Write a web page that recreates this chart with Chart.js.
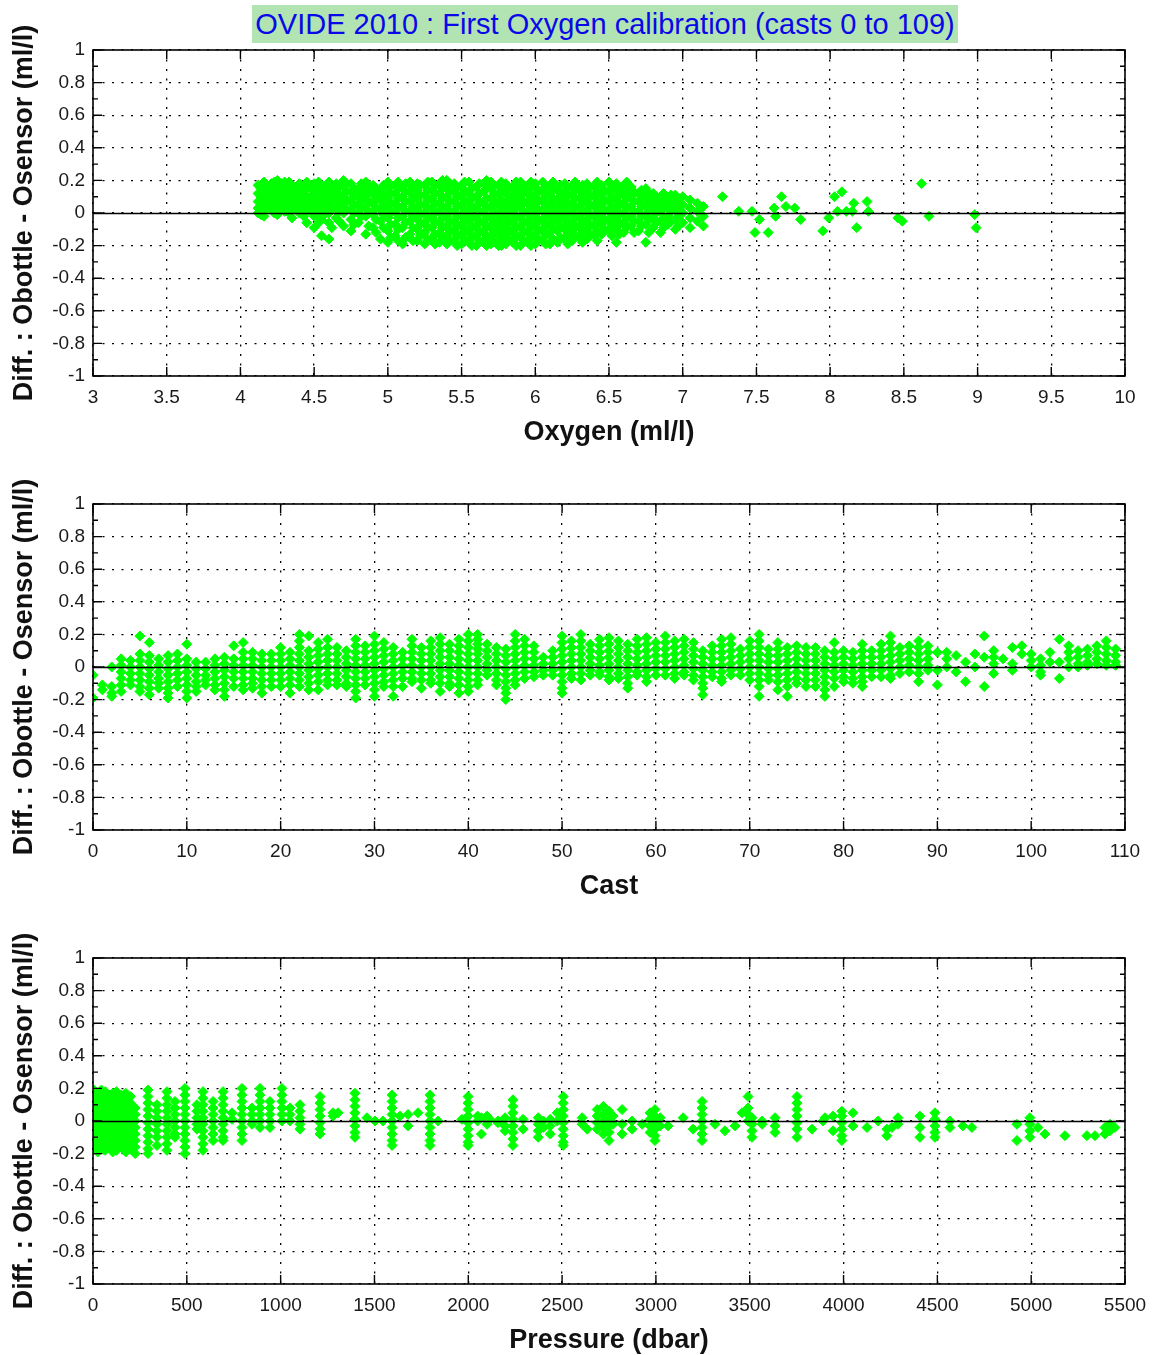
<!DOCTYPE html>
<html lang="en">
<head>
<meta charset="UTF-8">
<title>OVIDE 2010 : First Oxygen calibration</title>
<script src="https://cdn.jsdelivr.net/npm/chart.js"></script>
<style>
  body { margin: 0; background: #fff; width: 1160px; height: 1355px; position: relative; overflow: hidden; font-family: 'Liberation Sans', Arial, sans-serif; }
  #title { position: absolute; left: 252px; top: 5px; width: 706px; height: 38px; background: #b2e3b2; color: #0808e8; font-size: 29px; line-height: 39px; text-align: center; white-space: nowrap; }
  .panel { position: absolute; left: 0; width: 1160px; height: 454px; }
</style>
</head>
<body>
<div id="title">OVIDE 2010 : First Oxygen calibration (casts 0 to 109)</div>
<div class="panel" style="top:0"><canvas id="oxyChart" width="1160" height="454"></canvas></div>
<div class="panel" style="top:454px"><canvas id="castChart" width="1160" height="454"></canvas></div>
<div class="panel" style="top:908px"><canvas id="presChart" width="1160" height="454"></canvas></div>

<script>
// --- panel 1 : difference vs oxygen, read column by column
const oxygenLevels = [4.12,4.16,4.21,4.25,4.30,4.35,4.40,4.45,4.50,4.55,4.60,4.65,4.70,4.75,4.80,4.85,4.90,4.95,
  5.00,5.05,5.10,5.15,5.20,5.25,5.30,5.35,5.40,5.45,5.50,5.55,5.60,5.65,5.70,5.75,5.80,5.85,5.90,5.95,
  6.00,6.05,6.10,6.15,6.20,6.25,6.30,6.35,6.40,6.45,6.50,6.55,6.60,6.65,6.70,6.75,6.80,6.85,6.90,6.95,
  7.00,7.05,7.10,7.14,
  // in-between columns of the dense cloud
  4.14,4.18,4.23,4.28,4.33,4.38,4.43,4.48,4.53,4.58,
  4.62,4.67,4.72,4.77,4.82,4.87,4.92,4.97,5.02,5.07,5.12,5.17,5.22,5.27,5.32,5.37,5.42,5.47,5.52,5.57,
  5.62,5.67,5.72,5.77,5.82,5.87,5.92,5.97,6.02,6.07,6.12,6.17,6.22,6.27,6.32,6.37,6.42,6.47,6.52,6.57,
  6.62,6.67,6.72,6.77,6.82,6.87,6.92,6.97];
const oxygenDiffs = [
  [0.03,0.07,0.12,0.17,0.00],
  [0.01,0.05,0.10,0.14,0.19,-0.02],
  [0.02,0.06,0.09,0.13,0.18],
  [-0.01,0.04,0.08,0.12,0.16,0.20],
  [0.01,0.05,0.11,0.15,0.19],
  [-0.03,0.02,0.07,0.12,0.17],
  [0.00,0.04,0.09,0.14,0.18],
  [-0.06,0.01,0.06,0.10,0.15,0.19],
  [-0.09,-0.02,0.03,0.08,0.13,0.18],
  [-0.14,-0.04,0.02,0.06,0.11,0.16],
  [-0.16,-0.06,0.00,0.05,0.10,0.15,0.19],
  [-0.03,0.03,0.08,0.13,0.18],
  [-0.08,0.00,0.05,0.10,0.16,0.20],
  [-0.11,-0.04,0.02,0.07,0.13,0.18],
  [-0.06,0.00,0.05,0.11,0.15],
  [-0.13,-0.02,0.04,0.09,0.14,0.19],
  [-0.09,-0.01,0.06,0.12,0.17],
  [-0.16,-0.05,0.02,0.08,0.13],
  [-0.18,-0.11,-0.03,0.03,0.09,0.15,0.19],
  [-0.14,-0.07,0.01,0.06,0.12,0.17],
  [-0.19,-0.09,-0.02,0.04,0.10,0.16],
  [-0.13,-0.05,0.01,0.07,0.13,0.19],
  [-0.17,-0.10,-0.04,0.02,0.08,0.14,0.18],
  [-0.19,-0.12,-0.06,0.00,0.05,0.11,0.17],
  [-0.16,-0.09,-0.03,0.03,0.09,0.14,0.19],
  [-0.18,-0.12,-0.06,0.01,0.06,0.12,0.18],
  [-0.19,-0.14,-0.08,-0.02,0.04,0.10,0.16,0.20],
  [-0.17,-0.11,-0.05,0.01,0.07,0.13,0.18],
  [-0.19,-0.13,-0.07,-0.01,0.05,0.11,0.17],
  [-0.18,-0.12,-0.06,0.00,0.06,0.12,0.19],
  [-0.20,-0.14,-0.08,-0.02,0.04,0.10,0.16],
  [-0.18,-0.12,-0.06,0.00,0.06,0.13,0.18],
  [-0.19,-0.14,-0.08,-0.02,0.04,0.09,0.15,0.19],
  [-0.20,-0.13,-0.07,-0.01,0.05,0.11,0.17],
  [-0.19,-0.13,-0.07,-0.01,0.05,0.12,0.18],
  [-0.18,-0.12,-0.06,0.00,0.06,0.11,0.16],
  [-0.20,-0.14,-0.08,-0.02,0.04,0.10,0.15,0.19],
  [-0.18,-0.12,-0.06,0.00,0.06,0.12,0.17],
  [-0.19,-0.13,-0.07,-0.01,0.05,0.11,0.18],
  [-0.17,-0.11,-0.05,0.01,0.07,0.13,0.19],
  [-0.19,-0.12,-0.06,0.00,0.06,0.12,0.17],
  [-0.18,-0.11,-0.05,0.01,0.07,0.14],
  [-0.16,-0.10,-0.04,0.02,0.08,0.13,0.18],
  [-0.17,-0.11,-0.05,0.01,0.06,0.11,0.16],
  [-0.15,-0.09,-0.03,0.03,0.09,0.15],
  [-0.16,-0.10,-0.04,0.02,0.08,0.13,0.18],
  [-0.14,-0.08,-0.02,0.04,0.10,0.16],
  [-0.13,-0.07,-0.01,0.05,0.11,0.17],
  [-0.11,-0.05,0.01,0.07,0.13,0.19],
  [-0.18,-0.10,-0.04,0.02,0.08,0.14,0.18],
  [-0.12,-0.06,0.00,0.06,0.12,0.17],
  [-0.08,-0.02,0.04,0.10,0.16],
  [-0.11,-0.05,0.01,0.07,0.12],
  [-0.18,-0.07,-0.01,0.05,0.11,0.15],
  [-0.09,-0.03,0.03,0.08,0.12],
  [-0.12,-0.05,0.01,0.06,0.10],
  [-0.07,-0.02,0.04,0.09],
  [-0.10,-0.04,0.02,0.07,0.11],
  [-0.06,0.00,0.05,0.10],
  [-0.09,-0.03,0.03,0.08],
  [-0.05,0.01,0.06],
  [-0.08,-0.02,0.04],
  // in-between columns
  [-0.01,0.05,0.10,0.15],
  [0.03,0.08,0.12,0.17],
  [0.00,0.04,0.11,0.15,0.19],
  [0.02,0.07,0.10,0.14,0.18],
  [0.00,0.04,0.09,0.14,0.19],
  [0.02,0.06,0.11,0.16],
  [-0.02,0.03,0.08,0.12,0.17],
  [0.01,0.05,0.10,0.16],
  [-0.06,0.00,0.04,0.09,0.14,0.19],
  [0.00,0.03,0.08,0.13,0.17],
  [-0.09,0.02,0.07,0.12,0.17],
  [-0.05,0.01,0.06,0.11,0.16],
  [0.02,0.08,0.13,0.18],
  [-0.07,0.00,0.05,0.10,0.15],
  [-0.02,0.03,0.08,0.13,0.18],
  [-0.08,0.01,0.07,0.12,0.16],
  [-0.12,-0.04,0.03,0.09,0.15],
  [-0.09,-0.01,0.05,0.11,0.17],
  [-0.15,-0.07,0.00,0.06,0.12,0.17],
  [-0.17,-0.10,-0.03,0.03,0.09,0.15,0.19],
  [-0.15,-0.06,0.01,0.07,0.13,0.18],
  [-0.17,-0.09,-0.02,0.04,0.10,0.16],
  [-0.14,-0.07,-0.01,0.05,0.11,0.17],
  [-0.16,-0.09,-0.03,0.03,0.08,0.14,0.19],
  [-0.19,-0.13,-0.06,0.00,0.06,0.12,0.17],
  [-0.15,-0.09,-0.03,0.03,0.09,0.15,0.20],
  [-0.17,-0.11,-0.05,0.01,0.07,0.13,0.18],
  [-0.20,-0.14,-0.08,-0.02,0.04,0.10,0.16],
  [-0.16,-0.10,-0.04,0.02,0.08,0.14,0.19],
  [-0.20,-0.15,-0.09,-0.03,0.03,0.09,0.15],
  [-0.17,-0.11,-0.05,0.01,0.07,0.12,0.18],
  [-0.20,-0.15,-0.09,-0.03,0.03,0.09,0.15,0.20],
  [-0.17,-0.11,-0.05,0.01,0.07,0.12,0.17],
  [-0.20,-0.16,-0.10,-0.04,0.02,0.08,0.14,0.19],
  [-0.16,-0.10,-0.04,0.02,0.08,0.15],
  [-0.20,-0.15,-0.09,-0.03,0.03,0.08,0.13,0.19],
  [-0.17,-0.11,-0.05,0.01,0.07,0.13,0.17],
  [-0.20,-0.15,-0.09,-0.03,0.03,0.09,0.15,0.19],
  [-0.16,-0.10,-0.04,0.02,0.08,0.14],
  [-0.19,-0.14,-0.08,-0.02,0.04,0.10,0.16],
  [-0.16,-0.09,-0.03,0.03,0.09,0.15,0.19],
  [-0.15,-0.08,-0.02,0.04,0.10,0.17],
  [-0.19,-0.13,-0.07,-0.01,0.05,0.11,0.16],
  [-0.14,-0.08,-0.02,0.04,0.09,0.14,0.19],
  [-0.18,-0.12,-0.06,0.00,0.06,0.12,0.17],
  [-0.13,-0.07,-0.01,0.05,0.11,0.16],
  [-0.17,-0.11,-0.05,0.01,0.07,0.13,0.19],
  [-0.10,-0.04,0.02,0.08,0.14],
  [-0.14,-0.08,-0.02,0.04,0.10,0.16],
  [-0.13,-0.07,-0.01,0.05,0.11,0.16],
  [-0.09,-0.03,0.03,0.09,0.14,0.19],
  [-0.12,-0.05,0.01,0.07,0.13],
  [-0.08,-0.02,0.04,0.09,0.14],
  [-0.12,-0.04,0.02,0.07,0.12],
  [-0.06,0.00,0.05,0.10],
  [-0.09,-0.03,0.03,0.08,0.12],
  [-0.05,0.01,0.06,0.11],
  [-0.08,-0.02,0.03,0.08]
];
// isolated points beyond 7.15 ml/l
const oxygenSparse = [7.27,7.38,7.47,7.52,7.49,7.58,7.62,7.67,7.63,7.70,7.76,7.80,7.95,7.99,8.03,8.08,8.05,8.11,8.15,8.16,8.18,8.25,8.26,8.46,8.49,8.62,8.67,8.98,8.99];
const oxygenSparseDiff = [0.10,0.01,0.01,-0.04,-0.12,-0.12,0.03,0.10,-0.02,0.04,0.03,-0.04,-0.11,-0.03,0.10,0.13,0.01,0.01,0.01,0.06,-0.09,0.07,0.01,-0.03,-0.05,0.18,-0.02,-0.01,-0.09];

// --- panel 2 : difference per cast (index = cast number)
const castDiffs = [
  [-0.05,-0.19], [-0.11,-0.14], [0.00,-0.12,-0.16,-0.18],
  [0.05,0.01,-0.03,-0.07,-0.11,-0.15], [0.04,0.00,-0.04,-0.08,-0.11],
  [0.19,0.08,0.04,0.00,-0.04,-0.08,-0.12,-0.15], [0.15,0.07,0.03,-0.01,-0.05,-0.09,-0.13,-0.17],
  [0.05,0.01,-0.03,-0.07,-0.10,-0.13], [0.07,0.03,-0.01,-0.05,-0.09,-0.13,-0.16,-0.19],
  [0.08,0.04,0.00,-0.04,-0.08,-0.12], [0.14,0.05,0.01,-0.03,-0.07,-0.11,-0.15,-0.19],
  [0.03,-0.01,-0.05,-0.09,-0.12,-0.15], [0.03,-0.01,-0.05,-0.08,-0.11],
  [0.05,0.01,-0.03,-0.07,-0.11,-0.14], [0.06,0.02,-0.02,-0.06,-0.10,-0.14,-0.18],
  [0.13,0.05,0.01,-0.03,-0.07,-0.12], [0.15,0.09,0.05,0.01,-0.03,-0.07,-0.11,-0.14],
  [0.09,0.05,0.01,-0.03,-0.07,-0.10,-0.13], [0.08,0.04,0.00,-0.04,-0.08,-0.12,-0.16],
  [0.08,0.04,0.00,-0.04,-0.08,-0.12], [0.12,0.08,0.04,0.00,-0.04,-0.08,-0.12],
  [0.09,0.05,0.01,-0.03,-0.07,-0.11,-0.16], [0.20,0.16,0.12,0.08,0.04,0.00,-0.04,-0.08,-0.12],
  [0.19,0.10,0.06,0.02,-0.02,-0.06,-0.10,-0.14], [0.15,0.11,0.07,0.03,-0.01,-0.05,-0.09,-0.14],
  [0.17,0.12,0.08,0.04,0.00,-0.04,-0.08,-0.11], [0.12,0.08,0.04,0.00,-0.04,-0.08,-0.11],
  [0.10,0.06,0.02,-0.02,-0.06,-0.10,-0.12], [0.17,0.13,0.09,0.05,0.01,-0.03,-0.07,-0.11,-0.15,-0.19],
  [0.13,0.09,0.05,0.01,-0.03,-0.07,-0.11], [0.19,0.14,0.10,0.06,0.02,-0.02,-0.06,-0.10,-0.14,-0.18],
  [0.15,0.11,0.07,0.03,-0.01,-0.05,-0.09,-0.12], [0.12,0.08,0.04,0.00,-0.04,-0.08,-0.12,-0.18],
  [0.09,0.05,0.01,-0.03,-0.07,-0.12], [0.17,0.13,0.09,0.05,0.01,-0.03,-0.07,-0.09],
  [0.12,0.08,0.04,0.00,-0.04,-0.08,-0.13], [0.16,0.12,0.08,0.04,0.00,-0.04,-0.08,-0.10],
  [0.18,0.14,0.10,0.06,0.02,-0.02,-0.06,-0.10,-0.15], [0.14,0.10,0.06,0.02,-0.02,-0.06,-0.10,-0.12],
  [0.17,0.13,0.09,0.05,0.01,-0.03,-0.07,-0.11,-0.16],
  [0.20,0.16,0.12,0.08,0.04,0.00,-0.04,-0.08,-0.12,-0.15], [0.20,0.17,0.14,0.11,0.08,0.04,0.00,-0.04,-0.08,-0.11],
  [0.14,0.10,0.06,0.02,-0.02,-0.05], [0.12,0.08,0.04,0.00,-0.04,-0.08,-0.11],
  [0.11,0.07,0.03,-0.01,-0.05,-0.09,-0.13,-0.16,-0.20], [0.20,0.16,0.12,0.08,0.04,0.00,-0.04,-0.08,-0.11],
  [0.17,0.13,0.09,0.05,0.01,-0.03,-0.07], [0.13,0.09,0.05,0.01,-0.03,-0.06],
  [0.06,0.02,-0.02,-0.05], [0.10,0.06,0.02,-0.02,-0.05],
  [0.19,0.15,0.11,0.07,0.03,-0.01,-0.05,-0.09,-0.13,-0.16], [0.16,0.12,0.08,0.04,0.00,-0.04,-0.07],
  [0.20,0.16,0.12,0.08,0.04,0.00,-0.04,-0.08], [0.14,0.10,0.06,0.02,-0.02,-0.05],
  [0.17,0.13,0.09,0.05,0.01,-0.03,-0.05], [0.18,0.14,0.10,0.06,0.02,-0.02,-0.06,-0.08],
  [0.16,0.12,0.08,0.04,0.00,-0.04,-0.07], [0.14,0.10,0.06,0.02,-0.02,-0.06,-0.10,-0.13],
  [0.17,0.13,0.09,0.05,0.01,-0.03,-0.05], [0.18,0.14,0.10,0.06,0.02,-0.02,-0.06,-0.09],
  [0.15,0.11,0.07,0.03,-0.01,-0.05], [0.19,0.15,0.11,0.07,0.03,-0.01,-0.05],
  [0.16,0.12,0.08,0.04,0.00,-0.04,-0.07], [0.17,0.13,0.09,0.05,0.01,-0.03,-0.05],
  [0.15,0.11,0.07,0.03,-0.01,-0.05,-0.08], [0.10,0.06,0.02,-0.02,-0.06,-0.10,-0.13,-0.17],
  [0.13,0.09,0.05,0.01,-0.03,-0.06], [0.17,0.13,0.09,0.05,0.01,-0.03,-0.07,-0.09],
  [0.18,0.14,0.10,0.06,0.02,-0.02,-0.05], [0.11,0.07,0.03,-0.01,-0.05],
  [0.16,0.12,0.08,0.04,0.00,-0.04,-0.08], [0.20,0.16,0.12,0.08,0.04,0.00,-0.04,-0.08,-0.12,-0.18],
  [0.11,0.07,0.03,-0.01,-0.05,-0.08], [0.15,0.11,0.07,0.03,-0.01,-0.05,-0.09,-0.14],
  [0.12,0.08,0.04,0.00,-0.04,-0.08,-0.12,-0.18], [0.13,0.09,0.05,0.01,-0.03,-0.07,-0.10],
  [0.12,0.08,0.04,0.00,-0.04,-0.08,-0.12], [0.12,0.08,0.04,0.00,-0.04,-0.08,-0.12],
  [0.10,0.06,0.02,-0.02,-0.06,-0.10,-0.14,-0.18], [0.15,0.09,0.05,0.01,-0.03,-0.07,-0.12],
  [0.10,0.06,0.02,-0.02,-0.06,-0.09], [0.09,0.05,0.01,-0.03,-0.07,-0.10],
  [0.14,0.10,0.06,0.02,-0.02,-0.06,-0.09,-0.12], [0.10,0.06,0.02,-0.02,-0.06],
  [0.14,0.10,0.06,0.02,-0.02,-0.06], [0.19,0.15,0.11,0.07,0.03,-0.01,-0.05,-0.07],
  [0.12,0.08,0.04,0.00,-0.04], [0.13,0.09,0.05,0.01,-0.03],
  [0.16,0.12,0.08,0.04,0.00,-0.04,-0.09], [0.13,0.09,0.05,0.01,-0.02],
  [0.09,-0.02,-0.11], [0.09,0.05,0.00], [0.07,-0.03], [0.03,-0.09], [0.08,0.00],
  [0.19,0.06,-0.12], [0.10,0.06,0.02,-0.04], [0.05], [0.12,0.02,-0.02], [0.13,0.08],
  [0.08,0.04,0.00], [0.05,0.01,-0.03,-0.05], [0.09,0.03], [0.17,0.03,-0.07],
  [0.13,0.09,0.05,0.00], [0.10,0.06,0.02,0.00], [0.11,0.07,0.03,0.01],
  [0.13,0.09,0.05,0.02], [0.16,0.12,0.08,0.04,0.01], [0.11,0.07,0.03,0.01]
];

// --- panel 3 : difference vs bottle pressure
const pressureLevels = [5,25,45,65,85,105,125,150,175,200,225,293,341,394,437,490,554,586,640,693,741,794,847,890,943,
  1007,1050,1103,1210,1279,1306,1396,1460,1503,1545,1594,1636,1679,1732,1796,1839,1966,1999,2050,2070,2100,2115,2158,2196,
  2238,2292,2373,2400,2437,2474,2506,2607,2634,2687,2720,2750,2772,2820,2873,2927,2969,2995,3023,3065,3145,3198,3246,
  3315,3368,3422,3459,3491,3512,3566,3635,3752,3832,3891,3901,3944,3991,4050,4125,4184,4231,4258,4290,4407,4487,4567,
  4636,4684,4924,4993,5036,5073,5180,5297,5340,5393,5420,5446];
const pressureDiffs = [
  [0.19,0.15,0.11,0.07,0.03,-0.01,-0.05,-0.09,-0.13,-0.17],
  [0.17,0.13,0.09,0.05,0.01,-0.03,-0.07,-0.11,-0.15,-0.19],
  [0.19,0.15,0.11,0.07,0.03,-0.01,-0.05,-0.09,-0.13,-0.17],
  [0.18,0.14,0.10,0.06,0.02,-0.02,-0.06,-0.10,-0.14,-0.18],
  [0.16,0.12,0.08,0.04,0.00,-0.04,-0.08,-0.12,-0.16],
  [0.17,0.13,0.09,0.05,0.01,-0.03,-0.07,-0.11,-0.15,-0.19],
  [0.18,0.14,0.10,0.06,0.02,-0.02,-0.06,-0.10,-0.14,-0.18],
  [0.16,0.12,0.08,0.04,0.00,-0.04,-0.08,-0.12,-0.16],
  [0.17,0.13,0.09,0.05,0.01,-0.03,-0.07,-0.11,-0.15,-0.19],
  [0.15,0.11,0.07,0.03,-0.01,-0.05,-0.09,-0.13,-0.17],
  [0.08,0.04,0.00,-0.04,-0.08,-0.12,-0.16,-0.20],
  [0.19,0.15,0.11,0.07,0.03,-0.01,-0.05,-0.09,-0.13,-0.17,-0.20],
  [0.10,0.06,0.02,-0.02,-0.06,-0.10,-0.15],
  [0.18,0.14,0.10,0.06,0.02,-0.02,-0.06,-0.10,-0.14,-0.18],
  [0.12,0.08,0.04,0.00,-0.04,-0.08,-0.10],
  [0.20,0.16,0.12,0.08,0.04,0.00,-0.04,-0.08,-0.12,-0.16,-0.20],
  [0.10,0.06,0.02,-0.02,-0.05],
  [0.18,0.14,0.10,0.06,0.02,-0.02,-0.06,-0.10,-0.14,-0.18],
  [0.12,0.08,0.04,0.00,-0.04,-0.08,-0.12],
  [0.18,0.14,0.10,0.06,0.02,-0.02,-0.06,-0.10,-0.12],
  [0.05,0.01],
  [0.20,0.16,0.12,0.08,0.04,0.00,-0.04,-0.08,-0.12],
  [0.08,0.04,0.00,-0.02],
  [0.20,0.16,0.12,0.08,0.04,0.00,-0.04],
  [0.12,0.08,0.04,0.00,-0.04],
  [0.20,0.16,0.12,0.08,0.04,0.00],
  [0.08,0.04,0.00],
  [0.10,0.06,0.02,-0.02,-0.05],
  [0.15,0.11,0.07,0.03,-0.01,-0.05,-0.08],
  [0.05,0.03], [0.05],
  [0.17,0.13,0.09,0.05,0.01,-0.03,-0.07,-0.10],
  [0.02], [0.00], [0.00],
  [0.16,0.12,0.08,0.04,0.00,-0.04,-0.08,-0.12,-0.15],
  [0.03], [0.04,-0.03], [0.05],
  [0.16,0.12,0.08,0.04,0.00,-0.04,-0.08,-0.12,-0.15],
  [0.00], [0.01],
  [0.15,0.11,0.07,0.03,-0.01,-0.05,-0.09,-0.13,-0.15],
  [0.03,0.00], [0.02,-0.08], [0.03,-0.02], [0.01], [-0.01,0.00], [0.02,-0.03,-0.06],
  [0.13,0.09,0.05,0.01,-0.03,-0.07,-0.11,-0.15],
  [0.01,-0.05], [0.02,-0.02,-0.06,-0.10], [0.00,-0.04], [0.01,-0.03,-0.08], [0.05,0.00],
  [0.15,0.11,0.07,0.03,-0.01,-0.05,-0.09,-0.13,-0.15],
  [0.02,-0.02], [-0.05], [0.07,0.03,-0.01,-0.05], [0.09,0.04,0.00,-0.04,-0.08],
  [0.06,0.01,-0.03,-0.07,-0.12], [0.03,-0.02], [0.07,-0.02,-0.08], [0.00,-0.05], [-0.02],
  [0.05,0.01,-0.03,-0.07], [0.07,0.03,-0.01,-0.05,-0.09,-0.12], [0.02,-0.03], [-0.03], [0.02], [-0.05],
  [0.12,0.08,0.04,0.00,-0.04,-0.08,-0.12],
  [-0.02], [-0.06], [-0.03], [0.05], [0.15,0.08,0.04,0.00], [0.02,-0.02,-0.06,-0.10],
  [0.00,-0.02], [0.02,-0.03,-0.07],
  [0.15,0.11,0.07,0.03,-0.01,-0.05,-0.10],
  [-0.05], [0.00], [0.02], [0.03,-0.06], [0.06,0.03,-0.01,-0.05,-0.09,-0.12], [0.05,-0.03],
  [-0.04], [0.00], [-0.05,-0.09], [-0.04], [0.02,-0.02], [0.03,-0.04,-0.10],
  [0.05,0.01,-0.03,-0.07,-0.10], [0.00,-0.04], [-0.03], [-0.04],
  [-0.02,-0.12], [0.02,-0.02,-0.06,-0.10], [-0.04], [-0.08], [-0.09], [-0.09], [-0.09],
  [-0.08,-0.04], [-0.06,-0.02], [-0.04]
];

const diffMin = -1, diffMax = 1, diffStep = 0.2;
const yTitle = 'Diff. : Obottle - Osensor (ml/l)';

function columnPoints(xs, cols) {
  const pts = [];
  xs.forEach((x, i) => cols[i].forEach(v => pts.push({ x: x, y: v })));
  return pts;
}

// box, inward ticks and zero line, drawn on top like the original figure
const boxPlugin = {
  id: 'box',
  afterDatasetsDraw(chart) {
    const { ctx, chartArea: a, scales: { x, y } } = chart;
    ctx.save();
    ctx.strokeStyle = '#000';
    ctx.lineWidth = 1.6;
    const y0 = Math.round(y.getPixelForValue(0)) + 0.5;
    ctx.beginPath();
    ctx.moveTo(a.left, y0); ctx.lineTo(a.right, y0);
    ctx.stroke();
    ctx.strokeRect(a.left, a.top, a.right - a.left, a.bottom - a.top);
    ctx.lineWidth = 1.4;
    ctx.beginPath();
    x.ticks.forEach(t => {
      const px = x.getPixelForValue(t.value);
      ctx.moveTo(px, a.bottom); ctx.lineTo(px, a.bottom - 9);
      ctx.moveTo(px, a.top); ctx.lineTo(px, a.top + 9);
    });
    y.ticks.forEach((t, i) => {
      const py = y.getPixelForValue(t.value);
      ctx.moveTo(a.left, py); ctx.lineTo(a.left + 9, py);
      ctx.moveTo(a.right, py); ctx.lineTo(a.right - 9, py);
      if (i < y.ticks.length - 1) {
        const pm = y.getPixelForValue((t.value + y.ticks[i + 1].value) / 2);
        ctx.moveTo(a.left, pm); ctx.lineTo(a.left + 5, pm);
        ctx.moveTo(a.right, pm); ctx.lineTo(a.right - 5, pm);
      }
    });
    ctx.stroke();
    ctx.restore();
  }
};

function makeChart(id, points, xMin, xMax, xStep, xTitle) {
  return new Chart(document.getElementById(id), {
    type: 'scatter',
    data: {
      datasets: [{
        data: points,
        pointStyle: 'rectRot',
        pointRadius: 5,
        borderWidth: 1,
        backgroundColor: '#00ff00',
        borderColor: '#00ff00'
      }]
    },
    options: {
      responsive: false,
      animation: false,
      devicePixelRatio: 1,
      layout: { padding: { top: 50, right: 35, left: 0, bottom: 0 } },
      plugins: { legend: { display: false }, tooltip: { enabled: false } },
      scales: {
        x: {
          type: 'linear', min: xMin, max: xMax,
          afterFit: s => { s.height = 78; },
          ticks: {
            stepSize: xStep,
            padding: 10,
            color: '#1a1a1a',
            font: { family: "'Liberation Sans', Arial, sans-serif", size: 19 },
            callback: v => String(Math.round(v * 10) / 10)
          },
          grid: { color: '#000', lineWidth: 1.3, drawTicks: false },
          border: { display: false, dash: [2, 7.5] },
          title: {
            display: true, text: xTitle, color: '#111',
            font: { family: "'Liberation Sans', Arial, sans-serif", size: 27, weight: 'bold', lineHeight: 1.2 },
            padding: { top: 0, bottom: 5 }
          }
        },
        y: {
          min: diffMin, max: diffMax,
          afterFit: s => { s.width = 93; },
          ticks: {
            stepSize: diffStep,
            padding: 8,
            color: '#1a1a1a',
            font: { family: "'Liberation Sans', Arial, sans-serif", size: 19 },
            callback: v => String(Math.round(v * 10) / 10)
          },
          grid: { color: '#000', lineWidth: 1.3, drawTicks: false },
          border: { display: false, dash: [2, 7.5] },
          title: {
            display: true, text: yTitle, color: '#111',
            font: { family: "'Liberation Sans', Arial, sans-serif", size: 27, weight: 'bold', lineHeight: 1.2 },
            padding: { top: 8, bottom: 0 }
          }
        }
      }
    },
    plugins: [boxPlugin]
  });
}

const oxyPoints = columnPoints(oxygenLevels, oxygenDiffs)
  .concat(oxygenSparse.map((x, i) => ({ x: x, y: oxygenSparseDiff[i] })));
const castPoints = [];
castDiffs.forEach((vals, cast) => vals.forEach(v => castPoints.push({ x: cast, y: v })));
const presPoints = columnPoints(pressureLevels, pressureDiffs);

makeChart('oxyChart', oxyPoints, 3, 10, 0.5, 'Oxygen (ml/l)');
makeChart('castChart', castPoints, 0, 110, 10, 'Cast');
makeChart('presChart', presPoints, 0, 5500, 500, 'Pressure (dbar)');
</script>
</body>
</html>
